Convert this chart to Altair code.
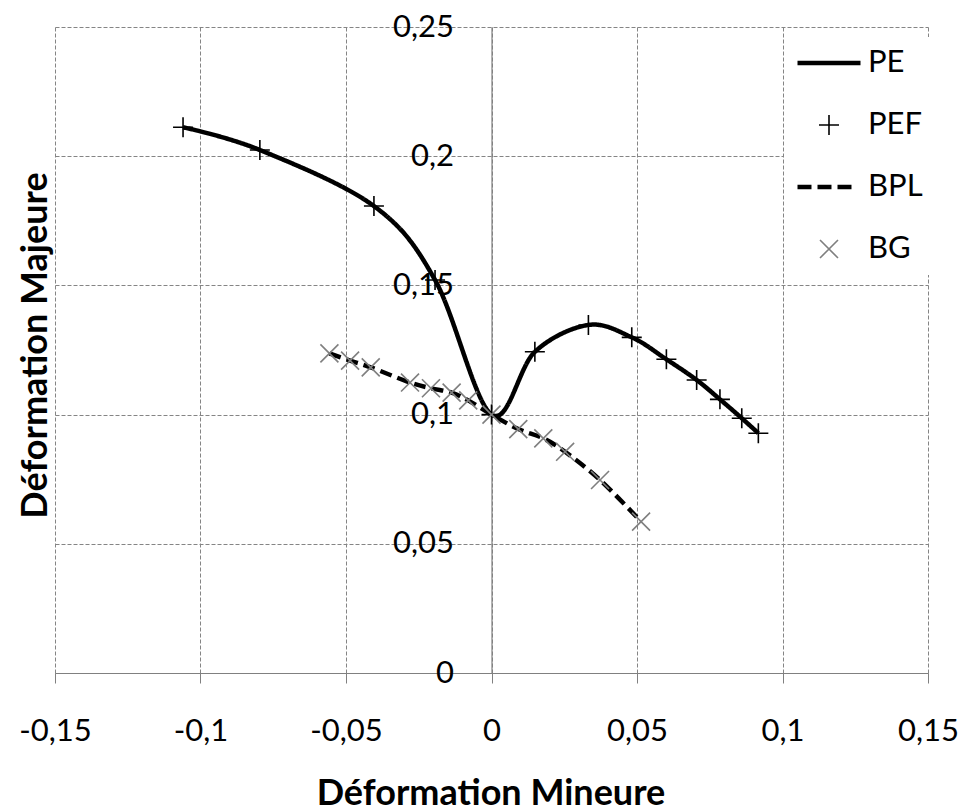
import math

import altair as alt
import pandas as pd

# Déformation mineure / majeure, courbe PE (points PEF) et courbe BPL (points BG)
pe_x = [-0.106, -0.0796, -0.0404, -0.0194, 0.0, 0.0149, 0.0333, 0.0482, 0.0601, 0.0705, 0.0785, 0.0860, 0.0917]
pe_y = [0.2112, 0.2024, 0.1807, 0.1521, 0.1, 0.1243, 0.1347, 0.1299, 0.1214, 0.1134, 0.1059, 0.0986, 0.0928]

bpl_x = [-0.0557, -0.0486, -0.0415, -0.0280, -0.0208, -0.0137, -0.0080, 0.0, 0.0092, 0.0178, 0.0253, 0.0373, 0.0514]
bpl_y = [0.1237, 0.1209, 0.1183, 0.1124, 0.1102, 0.1085, 0.1055, 0.1, 0.0944, 0.0908, 0.0856, 0.0747, 0.0586]

series_names = ["PE", "PEF", "BPL", "BG"]
series_colors = ["black", "black", "black", "#7f7f7f"]

x_ticks = [-0.15, -0.1, -0.05, 0, 0.05, 0.1, 0.15]
y_ticks = [0, 0.05, 0.1, 0.15, 0.2, 0.25]

lines = pd.DataFrame({
    "x": pe_x + bpl_x,
    "y": pe_y + bpl_y,
    "serie": ["PE"] * len(pe_x) + ["BPL"] * len(bpl_x),
})
points = pd.DataFrame({
    "x": pe_x + bpl_x,
    "y": pe_y + bpl_y,
    "serie": ["PEF"] * len(pe_x) + ["BG"] * len(bpl_x),
})

# symbol geometry: custom paths are scaled by sqrt(size)/2
SYM_SIZE = 5700
UNIT = math.sqrt(SYM_SIZE) / 2


def u(v):
    return f"{v / UNIT:.4f}"


def hline(x0, x1, dy):
    return f"M{u(x0)},{u(dy)}H{u(x1)}"


thick = [-1.5, -0.5, 0.5, 1.5]
path_pe = "".join(hline(-31.5, 31.5, d) for d in thick)
path_bpl = "".join(hline(a, b, d) for d in thick for a, b in [(-31.5, -17.5), (-11.5, 2.5), (8.5, 22.5)])
path_plus = f"M{u(-10)},0H{u(10)}M0,{u(-10)}V{u(10)}"
path_x = f"M{u(-9)},{u(-9)}L{u(9)},{u(9)}M{u(-9)},{u(9)}L{u(9)},{u(-9)}"
shape_paths = [path_pe, path_plus, path_bpl, path_x]

FONT = "Lato"
GRID = "#858585"
AXIS = "#808080"

label_expr = "replace(replace(format(datum.value, '.2~f'), '.', ','), '\u2212', '-')"

x_enc = alt.X(
    "x:Q",
    scale=alt.Scale(domain=[-0.15, 0.15], nice=False, zero=False),
    axis=alt.Axis(
        values=x_ticks, labelExpr=label_expr,
        grid=True, gridColor=GRID, gridDash=[4, 2], gridWidth=1,
        domainColor=AXIS, domainWidth=1.2, tickColor=AXIS, tickSize=10,
        labelPadding=48, labelFont=FONT, labelFontSize=31, labelColor="black",
        labelBaseline="middle", labelFlush=False,
        title="Déformation Mineure", titleFont=FONT, titleFontSize=36,
        titleFontWeight="bold", titleColor="black",
        titleX=435.5, titleY=131, titleAlign="center", titleBaseline="alphabetic",
    ),
)

y_enc = alt.Y(
    "y:Q",
    scale=alt.Scale(domain=[0, 0.25], nice=False),
    axis=alt.Axis(
        values=y_ticks, labelExpr=label_expr, offset=-436.5,
        grid=True, gridColor=GRID, gridDash=[4, 2], gridWidth=1,
        domainColor=AXIS, domainWidth=1.2, ticks=False, tickSize=0,
        labelPadding=38, labelFont=FONT, labelFontSize=31, labelColor="black",
        labelBaseline="middle", labelFlush=False,
        title="Déformation Majeure", titleFont=FONT, titleFontSize=36,
        titleFontWeight="bold", titleColor="black", titleAngle=270,
        titleX=-445.5, titleY=318, titleAlign="center", titleBaseline="alphabetic",
    ),
)

legend = alt.Legend(
    title=None, orient="none", legendX=729, legendY=10, padding=6,
    fillColor="white", labelFont=FONT, labelFontSize=31, labelColor="black",
    labelOffset=0, symbolOffset=0, symbolSize=SYM_SIZE, symbolStrokeWidth=1.6,
    clipHeight=40, rowPadding=22,
)

curves = alt.Chart(lines).mark_line(
    interpolate="cardinal", color="black", strokeWidth=4.5
).encode(
    x=x_enc,
    y=y_enc,
    strokeDash=alt.StrokeDash(
        "serie:N",
        scale=alt.Scale(domain=["PE", "BPL"], range=[[1, 0], [12, 6]]),
        legend=None,
    ),
)

markers = alt.Chart(points).mark_point(
    filled=False, size=SYM_SIZE, strokeWidth=1.6, opacity=1
).encode(
    x=x_enc,
    y=y_enc,
    shape=alt.Shape("serie:N", scale=alt.Scale(domain=series_names, range=shape_paths), legend=legend),
    color=alt.Color("serie:N", scale=alt.Scale(domain=series_names, range=series_colors), legend=legend),
)

chart = alt.layer(curves, markers).properties(
    width=873,
    height=646,
    autosize=alt.AutoSizeParams(type="none"),
    padding={"left": 55, "top": 27, "right": 34, "bottom": 139},
    background="white",
).configure_view(stroke=None)

chart.save("out.html", embed_options={"renderer": "svg", "actions": False})
